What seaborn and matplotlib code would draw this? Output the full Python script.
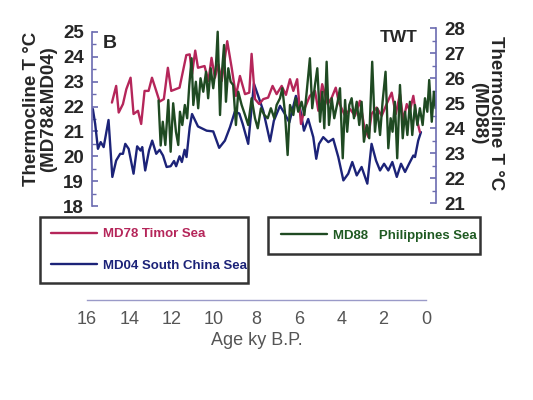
import numpy as np
import pandas as pd
import matplotlib
matplotlib.use('Agg')
import matplotlib.pyplot as plt
import seaborn as sns
from matplotlib.ticker import MultipleLocator

# ---------------- data ----------------
md04_age = [15.72, 15.61, 15.48, 15.35, 15.21, 14.98, 14.80, 14.62, 14.43, 14.30, 14.19, 14.03,
            13.80, 13.63, 13.47, 13.39, 13.25, 13.07, 12.92, 12.73, 12.57, 12.41, 12.24, 12.05,
            11.89, 11.79, 11.63, 11.52, 11.39, 11.30, 11.15, 11.04, 10.76, 10.35, 10.04, 9.76,
            9.49, 9.25, 9.02, 8.81, 8.65, 8.39, 8.12, 7.92, 7.68, 7.36, 7.18, 6.89, 6.66, 6.45,
            6.14, 5.95, 5.76, 5.56, 5.32, 5.18, 5.05, 4.85, 4.61, 4.38, 4.14, 3.90, 3.67, 3.48,
            3.27, 3.04, 2.77, 2.57, 2.36, 2.17, 1.98, 1.78, 1.59, 1.38, 1.18, 0.99, 0.80, 0.60,
            0.52, 0.37, 0.24]
md04_temp = [21.9, 21.3, 20.3, 20.57, 20.37, 21.46, 19.17, 19.83, 20.1, 20.1, 20.5, 20.3,
             19.3, 20.4, 20.23, 20.37, 19.43, 20.23, 20.63, 20.1, 20.26, 20.03, 19.57, 19.6,
             19.81, 19.6, 20.0, 19.77, 20.26, 19.97, 21.17, 21.7, 21.2, 21.03, 21.0, 20.34,
             20.63, 21.17, 21.8, 21.72, 21.3, 20.5, 22.92, 22.43, 21.83, 20.6, 21.43, 22.03, 21.7, 21.36,
             22.43, 21.96, 21.03, 21.5, 20.77, 19.9, 20.5, 20.77, 20.57, 20.7, 19.97, 19.03, 19.3, 19.77,
             19.23, 19.57, 18.9, 20.5, 19.83, 19.43, 19.7, 19.43, 19.77, 19.17, 19.7, 19.37, 19.7, 20.03,
             19.97, 20.63, 20.97]

md78_age = [14.82, 14.62, 14.50, 14.30, 14.14, 13.94, 13.80, 13.59, 13.44, 13.28, 13.09, 12.93,
            12.73, 12.57, 12.37, 12.18, 12.02, 11.63, 11.31, 11.15, 11.04, 10.89, 10.76, 10.45,
            10.27, 10.12, 9.96, 9.80, 9.64, 9.38, 9.17, 8.97, 8.78, 8.54, 8.34, 8.23, 8.07, 7.87,
            7.68, 7.45, 7.24, 7.05, 6.81, 6.61, 6.42, 6.26, 6.08, 5.90, 5.71, 5.48, 5.24, 5.08,
            4.90, 4.64, 4.45, 4.26, 4.11, 3.82, 3.59, 3.35, 3.12, 2.91, 2.72, 2.57, 2.33, 2.09,
            1.86, 1.62, 1.43, 1.23, 1.07, 0.91, 0.76, 0.60, 0.44, 0.29]
md78_temp = [22.16, 22.83, 21.76, 22.1, 22.7, 23.16, 21.7, 21.83, 21.3, 22.63, 22.63, 23.16,
             22.63, 22.2, 22.3, 23.56, 22.63, 22.76, 24.07, 24.1, 23.3, 24.25, 23.56, 23.63,
             23.03, 23.96, 23.16, 23.7, 23.03, 24.63, 23.56, 22.43, 23.23, 22.5, 22.56, 24.12, 22.3, 22.1,
             22.3, 22.36, 22.83, 22.5, 22.83, 22.47, 23.1, 22.63, 23.1, 21.3, 21.96, 22.43, 22.63, 21.83,
             22.9, 22.1, 22.36, 22.76, 22.16, 21.63, 21.9, 21.63, 22.23, 21.17, 20.77, 21.7, 21.96, 21.63,
             22.1, 22.56, 21.7, 22.5, 21.43, 22.1, 21.83, 22.43, 21.5, 20.97]

md88_age = [12.62, 12.52, 12.42, 12.30, 12.16, 12.05, 11.93, 11.80, 11.69, 11.61, 11.50, 11.38,
            11.27, 11.17, 11.06, 10.98, 10.86, 10.75, 10.64, 10.51, 10.38, 10.28, 10.16, 10.04,
            9.91, 9.83, 9.72, 9.64, 9.53, 9.44, 9.33, 9.22, 9.10, 8.97, 8.86, 8.70, 8.54, 8.39,
            8.23, 8.07, 7.94, 7.79, 7.63, 7.47, 7.32, 7.16, 7.05, 6.89, 6.78, 6.66, 6.53, 6.42,
            6.26, 6.15, 6.03, 5.87, 5.74, 5.63, 5.48, 5.37, 5.24, 5.13, 5.00, 4.89, 4.80, 4.69,
            4.58, 4.45, 4.33, 4.17, 4.06, 3.93, 3.82, 3.72, 3.62, 3.51, 3.40, 3.27, 3.15, 3.04,
            2.93, 2.80, 2.68, 2.54, 2.41, 2.30, 2.17, 2.05, 1.91, 1.78, 1.67, 1.58, 1.47, 1.36,
            1.23, 1.10, 0.99, 0.88, 0.76, 0.65, 0.52, 0.41, 0.29, 0.16, 0.05, -0.06, -0.15, -0.27,
            -0.37, -0.45]
md88_temp = [25.1, 23.3, 24.25, 23.32, 25.12, 23.05, 24.99, 23.85, 23.32, 24.65, 24.12, 24.92,
             24.39, 25.72, 26.79, 24.92, 25.85, 24.79, 25.99, 25.45, 26.25, 25.19, 26.39, 25.59,
             26.52, 27.85, 24.52, 26.12, 27.32, 25.05, 26.39, 25.85, 25.72, 24.12, 25.45, 24.92, 24.52, 24.12,
             25.19, 24.39, 23.99, 24.79, 24.52, 24.39, 24.79, 24.39, 24.92, 25.19, 25.59, 24.65, 22.92, 24.92,
             24.52, 25.19, 24.65, 25.05, 24.52, 25.45, 26.79, 24.79, 25.72, 26.39, 24.25, 25.45, 23.99, 26.65,
             24.12, 25.19, 24.39, 25.05, 25.59, 22.79, 25.12, 23.85, 24.92, 25.19, 24.39, 25.05, 24.12, 25.05,
             23.45, 24.12, 23.59, 26.65, 23.85, 24.79, 23.72, 25.05, 26.25, 23.19, 24.39, 23.85, 25.05, 22.79,
             25.72, 23.59, 24.65, 23.72, 25.05, 23.72, 24.92, 24.12, 24.79, 24.12, 25.19, 24.65, 25.92, 24.25,
             25.45, 24.79]

age_ticks = [16, 14, 12, 10, 8, 6, 4, 2, 0]

# ---------------- style ----------------
sns.set_style('white')
FONT = ['Liberation Sans', 'DejaVu Sans']
plt.rcParams['font.family'] = FONT

red = '#b5265a'
blue = '#1c2378'
green = '#1f4a22'
axis_col = '#6b6bb0'
W, H = 533, 400

fig = plt.figure(figsize=(W / 100, H / 100), dpi=100)
ax = fig.add_axes([92 / W, 1 - 208 / H, 344 / W, 180 / H])
ax2 = ax.twinx()

df78 = pd.DataFrame({'age': md78_age, 'temp': md78_temp})
df04 = pd.DataFrame({'age': md04_age, 'temp': md04_temp})
df88 = pd.DataFrame({'age': md88_age, 'temp': md88_temp})

sns.lineplot(data=df04, x='age', y='temp', ax=ax, color=blue, lw=1.7, sort=False,
             estimator=None, label='MD04 South China Sea', legend=False)
sns.lineplot(data=df78, x='age', y='temp', ax=ax, color=red, lw=1.7, sort=False,
             estimator=None, label='MD78 Timor Sea', legend=False)
sns.lineplot(data=df88, x='age', y='temp', ax=ax2, color=green, lw=1.7, sort=False,
             estimator=None, label='MD88   Philippines Sea', legend=False)

ax.set_xlim(15.76, -0.47)
ax.set_ylim(17.92, 25.16)
ax2.set_ylim(20.8, 28.0)

for a, side, lo, hi in [(ax, 'left', 18, 25), (ax2, 'right', 21, 28)]:
    for s in a.spines.values():
        s.set_visible(False)
    a.spines[side].set_visible(True)
    a.spines[side].set_color(axis_col)
    a.spines[side].set_linewidth(1.2)
    a.spines[side].set_bounds(lo, hi)
    a.set_yticks(range(lo, hi + 1))
    a.yaxis.set_minor_locator(MultipleLocator(0.5))
    a.tick_params(axis='y', which='major', direction='in', length=4, width=1.2,
                  color=axis_col, labelsize=13.5, pad=6)
    a.tick_params(axis='y', which='minor', direction='in', length=3, width=1.0, color=axis_col)
    for t in a.get_yticklabels():
        t.set_fontweight('bold')
    a.set_xlabel('')
    a.set_ylabel('')
    a.set_xticks([])
ax2.yaxis.set_ticks_position('right')

fig.text(40 / W, 1 - 109 / H, 'Thermocline T \u00b0C\n(MD78&MD04)', rotation=90,
         ha='center', va='center', fontsize=13.5, fontweight='bold', linespacing=0.95)
fig.text(487 / W, 1 - 113 / H, 'Thermocline T \u00b0C\n(MD88)', rotation=270,
         ha='center', va='center', fontsize=13.5, fontweight='bold', linespacing=0.95)
fig.text(103 / W, 1 - 43 / H, 'B', ha='left', va='center', fontsize=14, fontweight='bold')
fig.text(399 / W, 1 - 37 / H, 'TWT', ha='center', va='center', fontsize=12.5, fontweight='bold')

# ---------------- legends ----------------
h1, l1 = ax.get_legend_handles_labels()
h2, l2 = ax2.get_legend_handles_labels()
prop = {'family': FONT, 'weight': 'bold', 'size': 9.5}

leg1 = fig.legend([h1[1], h1[0]], [l1[1], l1[0]], loc='upper left',
                  bbox_to_anchor=(40 / W, 1 - 283 / H, 208 / W, 66 / H), mode='expand',
                  frameon=True, fancybox=False, edgecolor='black', borderaxespad=0,
                  handlelength=3.5, handletextpad=0.45, labelspacing=1.45, borderpad=0.85, prop=prop)
leg1.get_frame().set_linewidth(1.8)
for t, c in zip(leg1.get_texts(), [red, blue]):
    t.set_color(c)

leg2 = fig.legend(h2, l2, loc='upper left',
                  bbox_to_anchor=(268 / W, 1 - 254 / H, 212 / W, 37 / H), mode='expand',
                  frameon=True, fancybox=False, edgecolor='black', borderaxespad=0,
                  handlelength=3.5, handletextpad=0.5, borderpad=0.95, prop=prop)
leg2.get_frame().set_linewidth(1.8)
for t in leg2.get_texts():
    t.set_color('#1f5a22')

# ---------------- separate age axis ----------------
axb = fig.add_axes([87 / W, 1 - 300 / H, 339 / W, 0.001])
axb.set_xlim(16, 0)
axb.set_yticks([])
for s in ['left', 'right', 'top']:
    axb.spines[s].set_visible(False)
axb.spines['bottom'].set_color('#9a9ac8')
axb.spines['bottom'].set_linewidth(1.0)
axb.set_xticks(age_ticks)
axb.xaxis.set_minor_locator(MultipleLocator(1))
axb.tick_params(axis='x', which='major', direction='in', length=7, width=1.0,
                color='#9a9ac8', labelsize=13, labelcolor='#555555', pad=8)
axb.tick_params(axis='x', which='minor', direction='in', length=3.5, width=1.0, color='#9a9ac8')
axb.set_xlabel('Age ky B.P.', fontsize=13, color='#555555', labelpad=3)

fig.savefig('out.png', dpi=100)
